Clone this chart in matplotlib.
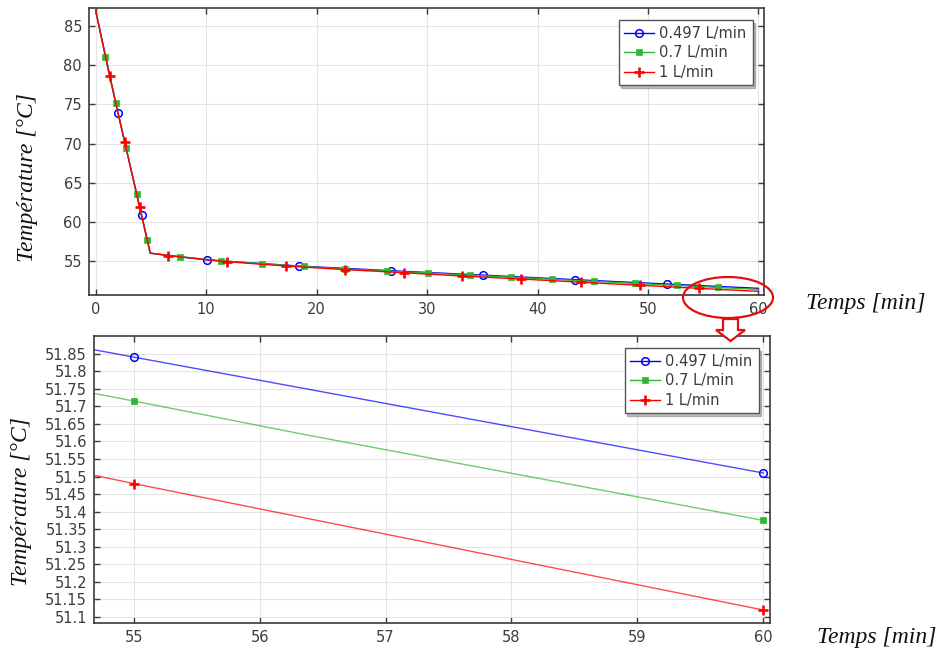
import matplotlib
matplotlib.use("Agg")
import matplotlib.pyplot as plt
from matplotlib.patches import Ellipse, Polygon
from matplotlib.ticker import FuncFormatter

# ---- data: outlet temperature vs time for three flow rates ----
labels = ["0.497 L/min", "0.7 L/min", "1 L/min"]

blue_t = [0, 2.02, 4.16, 4.95, 10.11, 18.41, 26.72, 35.02, 43.35, 51.69, 55, 60]
blue_T = [87.0, 73.9, 60.9, 56.0, 55.13, 54.36, 53.76, 53.2, 52.62, 52.06, 51.84, 51.51]
blue_top_marks = [2.02, 4.16, 10.11, 18.41, 26.72, 35.02, 43.35, 51.69]

green_t = [0, 0.87, 1.81, 2.77, 3.71, 4.65, 4.95, 7.64, 11.35, 15.1, 18.85, 22.6,
           26.35, 30.1, 33.85, 37.6, 41.35, 45.1, 48.85, 52.6, 55, 56.35, 60]
green_T = [87.0, 81.1, 75.2, 69.4, 63.5, 57.7, 56.0, 55.55, 55.02, 54.64, 54.3, 53.98,
           53.72, 53.46, 53.2, 52.93, 52.67, 52.4, 52.14, 51.88, 51.715, 51.62, 51.375]
green_top_marks = [0.87, 1.81, 2.77, 3.71, 4.65, 7.64, 11.35, 15.1, 18.85, 22.6,
                   26.35, 30.1, 33.85, 37.6, 41.35, 45.1, 48.85, 52.6, 56.35]

red_t = [0, 1.27, 2.63, 3.98, 4.95, 6.58, 11.89, 17.21, 22.6, 27.93, 33.2, 38.52,
         43.96, 49.27, 54.6, 55, 60]
red_T = [87.0, 78.6, 70.2, 61.86, 56.0, 55.68, 54.91, 54.36, 53.9, 53.5, 53.08, 52.7,
         52.29, 51.9, 51.51, 51.48, 51.12]
red_top_marks = [1.27, 2.63, 3.98, 6.58, 11.89, 17.21, 22.6, 27.93, 33.2, 38.52,
                 43.96, 49.27, 54.6]

zoom_marks = [55, 60]

top_xticks = [0, 10, 20, 30, 40, 50, 60]
top_yticks = [55, 60, 65, 70, 75, 80, 85]
zoom_xticks = [55, 56, 57, 58, 59, 60]
zoom_yticks = [51.1, 51.15, 51.2, 51.25, 51.3, 51.35, 51.4, 51.45, 51.5, 51.55,
               51.6, 51.65, 51.7, 51.75, 51.8, 51.85]

series = [
    (blue_t, blue_T, blue_top_marks, dict(color="#0000ff", marker="o", ms=5.5,
                                          mfc="none", mew=1.1)),
    (green_t, green_T, green_top_marks, dict(color="#2fb82f", marker="s", ms=3.8,
                                             mfc="#2fb82f", mew=0.5)),
    (red_t, red_T, red_top_marks, dict(color="#ff0000", marker="+", ms=7, mew=1.9)),
]

W, H = 939, 652
fig = plt.figure(figsize=(W / 100, H / 100), dpi=100)


def fx(x):
    return x / W


def fy(y):
    return 1 - y / H


def box(l, t, r, b):
    return [fx(l), fy(b), fx(r) - fx(l), fy(t) - fy(b)]


ax_top = fig.add_axes(box(89, 8, 764, 295))
ax_zoom = fig.add_axes(box(94, 336, 770, 623))

tick_color = "#3c3c3c"
spine_color = "#3a3a3a"


def style(ax):
    for s in ax.spines.values():
        s.set_color(spine_color)
        s.set_linewidth(1.2)
    ax.tick_params(direction="in", top=True, right=True, length=4, width=1,
                   color=spine_color, labelcolor=tick_color, labelsize=10.5, pad=5)
    ax.grid(True, color="#e4e4e4", linewidth=0.8)
    ax.set_axisbelow(True)


# Full time range
for t, T, marks, kw in series:
    idx = [t.index(m) for m in marks]
    ax_top.plot(t, T, lw=1.0, markevery=idx, **kw)
ax_top.set_xlim(-0.6, 60.5)
ax_top.set_ylim(50.66, 87.3)
ax_top.set_xticks(top_xticks)
ax_top.set_yticks(top_yticks)
style(ax_top)

# Close-up of the last five minutes: light lines, solid markers
for t, T, marks, kw in series:
    idx = [t.index(m) for m in zoom_marks]
    ax_zoom.plot(t, T, lw=1.0, color=kw["color"], alpha=0.7)
    ax_zoom.plot(t, T, ls="none", markevery=idx, **kw)
ax_zoom.set_xlim(54.685, 60.053)
ax_zoom.set_ylim(51.083, 51.9)
ax_zoom.set_xticks(zoom_xticks)
ax_zoom.set_yticks(zoom_yticks)
ax_zoom.yaxis.set_major_formatter(FuncFormatter(lambda v, p: f"{v:g}"))
style(ax_zoom)

for ax in (ax_top, ax_zoom):
    leg_handles = []
    for t, T, marks, kw in series:
        h, = ax.plot([], [], lw=1.0, **kw)
        leg_handles.append(h)
    leg = ax.legend(leg_handles, labels, loc="upper right",
                    bbox_to_anchor=(0.983, 0.958), borderaxespad=0,
                    fancybox=False, shadow={"ox": 2, "oy": -2, "alpha": 0.35},
                    framealpha=1, edgecolor="#555555", fontsize=10.5,
                    handlelength=2.0, handletextpad=0.4, labelspacing=0.3,
                    borderpad=0.4)
    leg.get_frame().set_linewidth(1.0)
    for txt in leg.get_texts():
        txt.set_color(tick_color)

# Axis titles
serif = dict(family="Liberation Serif", style="italic", fontsize=17, color="#111111")
fig.text(fx(27.5), fy(177), "Température [°C]", rotation=90,
         ha="center", va="center", **serif)
fig.text(fx(22), fy(502), "Température [°C]", rotation=90,
         ha="center", va="center", **serif)
fig.text(fx(866), fy(303), "Temps [min]", ha="center", va="center", **serif)
fig.text(fx(877), fy(637), "Temps [min]", ha="center", va="center", **serif)

# Highlight of the zoomed region and the arrow leading to the close-up
fig.add_artist(Ellipse((fx(728), fy(297.5)), fx(90), 41 / H, transform=fig.transFigure,
                       fill=False, edgecolor="#e01010", lw=1.6, zorder=5))
arrow_px = [(723, 319), (738, 319), (738, 330), (745, 330), (730.5, 341),
            (716, 330), (723, 330)]
fig.add_artist(Polygon([(fx(x), fy(y)) for x, y in arrow_px], closed=True,
                       transform=fig.transFigure, facecolor="white",
                       edgecolor="#e01010", lw=1.6, zorder=5))

fig.savefig("out.png", dpi=100)
